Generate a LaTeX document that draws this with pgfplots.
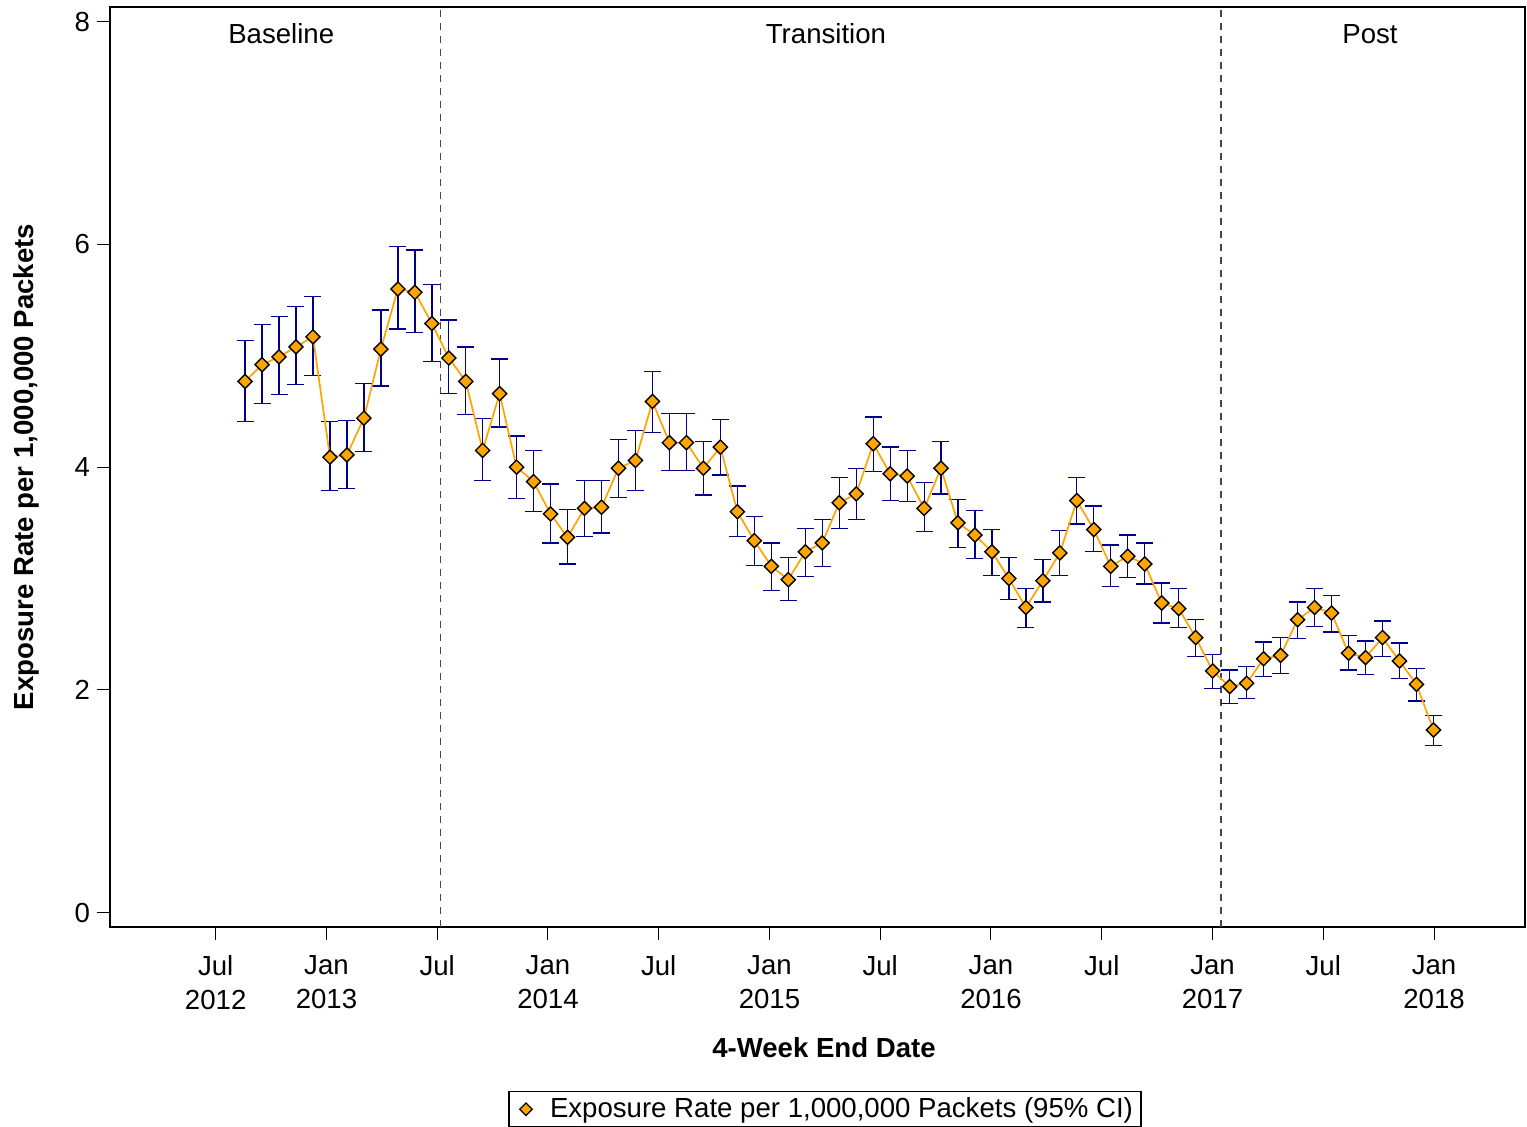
\documentclass[border=0pt]{standalone}
\usepackage{pgfplots}
\pgfplotsset{compat=1.18}
\usepackage{pgfplotstable}
\usepackage{fontspec}
\setmainfont{Liberation Sans}
\definecolor{ptorange}{RGB}{255,165,0}
\definecolor{cinavy}{RGB}{0,0,140}
\definecolor{dashgray}{RGB}{70,70,70}
\pgfplotsset{dlegend/.style={legend image code/.code={\path[draw=none,fill=none] (-6.5pt,0pt) rectangle (10pt,0.1pt); \draw[##1] plot coordinates {(0pt,0pt)};}}}
\pgfplotstableread{
x y hi lo
7.59 4.77 5.14 4.41
8.51 4.92 5.28 4.57
9.43 4.99 5.35 4.65
10.35 5.08 5.44 4.74
11.27 5.17 5.53 4.82
12.19 4.09 4.41 3.79
13.11 4.11 4.42 3.81
14.03 4.44 4.75 4.14
14.95 5.06 5.41 4.73
15.87 5.60 5.98 5.24
16.79 5.57 5.95 5.21
17.71 5.29 5.64 4.95
18.63 4.98 5.32 4.66
19.55 4.77 5.08 4.47
20.46 4.15 4.44 3.88
21.38 4.66 4.97 4.36
22.30 4.00 4.28 3.72
23.22 3.87 4.15 3.60
24.14 3.58 3.85 3.32
25.06 3.37 3.62 3.13
25.98 3.63 3.88 3.38
26.90 3.64 3.88 3.41
27.82 3.99 4.25 3.73
28.74 4.06 4.33 3.79
29.66 4.59 4.86 4.31
30.58 4.22 4.48 3.97
31.50 4.22 4.48 3.97
32.42 3.99 4.23 3.75
33.34 4.18 4.43 3.93
34.26 3.60 3.83 3.38
35.18 3.34 3.56 3.12
36.10 3.11 3.32 2.89
37.02 2.99 3.19 2.80
37.94 3.24 3.45 3.02
38.86 3.32 3.53 3.11
39.78 3.68 3.91 3.45
40.70 3.76 3.99 3.53
41.62 4.21 4.45 3.96
42.54 3.94 4.18 3.70
43.46 3.92 4.15 3.69
44.38 3.63 3.86 3.42
45.29 3.99 4.23 3.76
46.21 3.50 3.71 3.28
47.13 3.39 3.61 3.18
48.05 3.24 3.44 3.03
48.97 3.00 3.19 2.81
49.89 2.74 2.91 2.56
50.81 2.98 3.17 2.79
51.73 3.23 3.43 3.03
52.65 3.70 3.91 3.49
53.57 3.44 3.65 3.24
54.49 3.11 3.30 2.93
55.41 3.20 3.39 3.01
56.33 3.13 3.32 2.95
57.25 2.78 2.96 2.60
58.17 2.73 2.91 2.56
59.09 2.47 2.63 2.30
60.01 2.17 2.32 2.01
60.93 2.03 2.18 1.88
61.85 2.06 2.21 1.92
62.77 2.28 2.43 2.12
63.69 2.31 2.47 2.15
64.61 2.63 2.79 2.46
65.53 2.74 2.91 2.57
66.45 2.69 2.85 2.52
67.37 2.33 2.49 2.18
68.29 2.29 2.44 2.14
69.21 2.47 2.62 2.30
70.13 2.26 2.42 2.10
71.05 2.05 2.19 1.90
71.97 1.64 1.77 1.50
}\ratedata
\begin{document}
\begin{tikzpicture}
\useasboundingbox (-55pt,-100.15pt) rectangle (708.5pt,463.35pt);
\begin{axis}[
  at={(0,0)}, anchor=south west,
  scale only axis, width=707.5pt, height=459.7pt,
  xmin=0.274, xmax=76.93, ymin=-0.126, ymax=8.129,
  axis line style={line width=0.9pt},
  tick style={line width=0.5pt, black},
  tick align=outside, major tick length=6.5pt,
  xtick pos=bottom, ytick pos=left,
  xtick={6,12,18,24,30,36,42,48,54,60,66,72},
  xticklabels={{Jul\\2012},{Jan\\2013},Jul,{Jan\\2014},Jul,{Jan\\2015},Jul,{Jan\\2016},Jul,{Jan\\2017},Jul,{Jan\\2018}},
  xticklabel style={align=center, font=\fontsize{13.8}{17}\selectfont, yshift=-4.5pt},
  ytick={0,2,4,6,8},
  /pgf/number format/assume math mode=true,
  yticklabel style={font=\fontsize{13.8}{17}\selectfont},
  xlabel={\bfseries 4-Week End Date},
  xlabel style={at={(axis description cs:0.5046,-0.1418)}, anchor=base, font=\fontsize{13.8}{17}\selectfont},
  ylabel={\bfseries Exposure Rate per 1,000,000 Packets},
  ylabel style={at={(axis description cs:-0.0594,0.5)}, anchor=center, font=\fontsize{13.8}{17}\selectfont},
  legend style={at={(axis description cs:0.5053,-0.1788)}, anchor=north, draw=black, line width=0.7pt,
    font=\fontsize{13.8}{17}\selectfont, inner xsep=2pt, inner ysep=1pt},
  legend cell align=left,
]
\addplot[forget plot, dashgray, line width=0.8pt, dash pattern=on 3.5pt off 3pt] coordinates {(18.18,-0.126) (18.18,8.129)};
\addplot[forget plot, dashgray, line width=0.8pt, dash pattern=on 3.5pt off 3pt] coordinates {(60.47,-0.126) (60.47,8.129)};
\addplot[forget plot, draw=none, mark=none,
  error bars/.cd, y dir=both, y explicit,
  error bar style={draw=cinavy, line width=0.65pt},
  error mark options={draw=cinavy, rotate=90, mark size=4.25pt, line width=0.65pt}]
  table[x=x, y=y, y error plus expr=\thisrow{hi}-\thisrow{y}, y error minus expr=\thisrow{y}-\thisrow{lo}] {\ratedata};
\addplot[forget plot, ptorange, line width=0.85pt, mark=square*, mark size=2.5pt,
  mark options={rotate=45, fill=ptorange, draw=black, line width=0.7pt, solid}]
  table[x=x, y=y] {\ratedata};
\addlegendimage{only marks, mark=square*, mark size=2.2pt, mark options={rotate=45, fill=ptorange, draw=black, line width=0.6pt}, dlegend}
\addlegendentry{Exposure Rate per 1,000,000 Packets (95\% CI)}
\node[anchor=base, font=\fontsize{13.8}{17}\selectfont] at (axis cs:9.55,7.806) {Baseline};
\node[anchor=base, font=\fontsize{13.8}{17}\selectfont] at (axis cs:39.06,7.806) {Transition};
\node[anchor=base, font=\fontsize{13.8}{17}\selectfont] at (axis cs:68.53,7.806) {Post};
\end{axis}
\end{tikzpicture}
\end{document}
